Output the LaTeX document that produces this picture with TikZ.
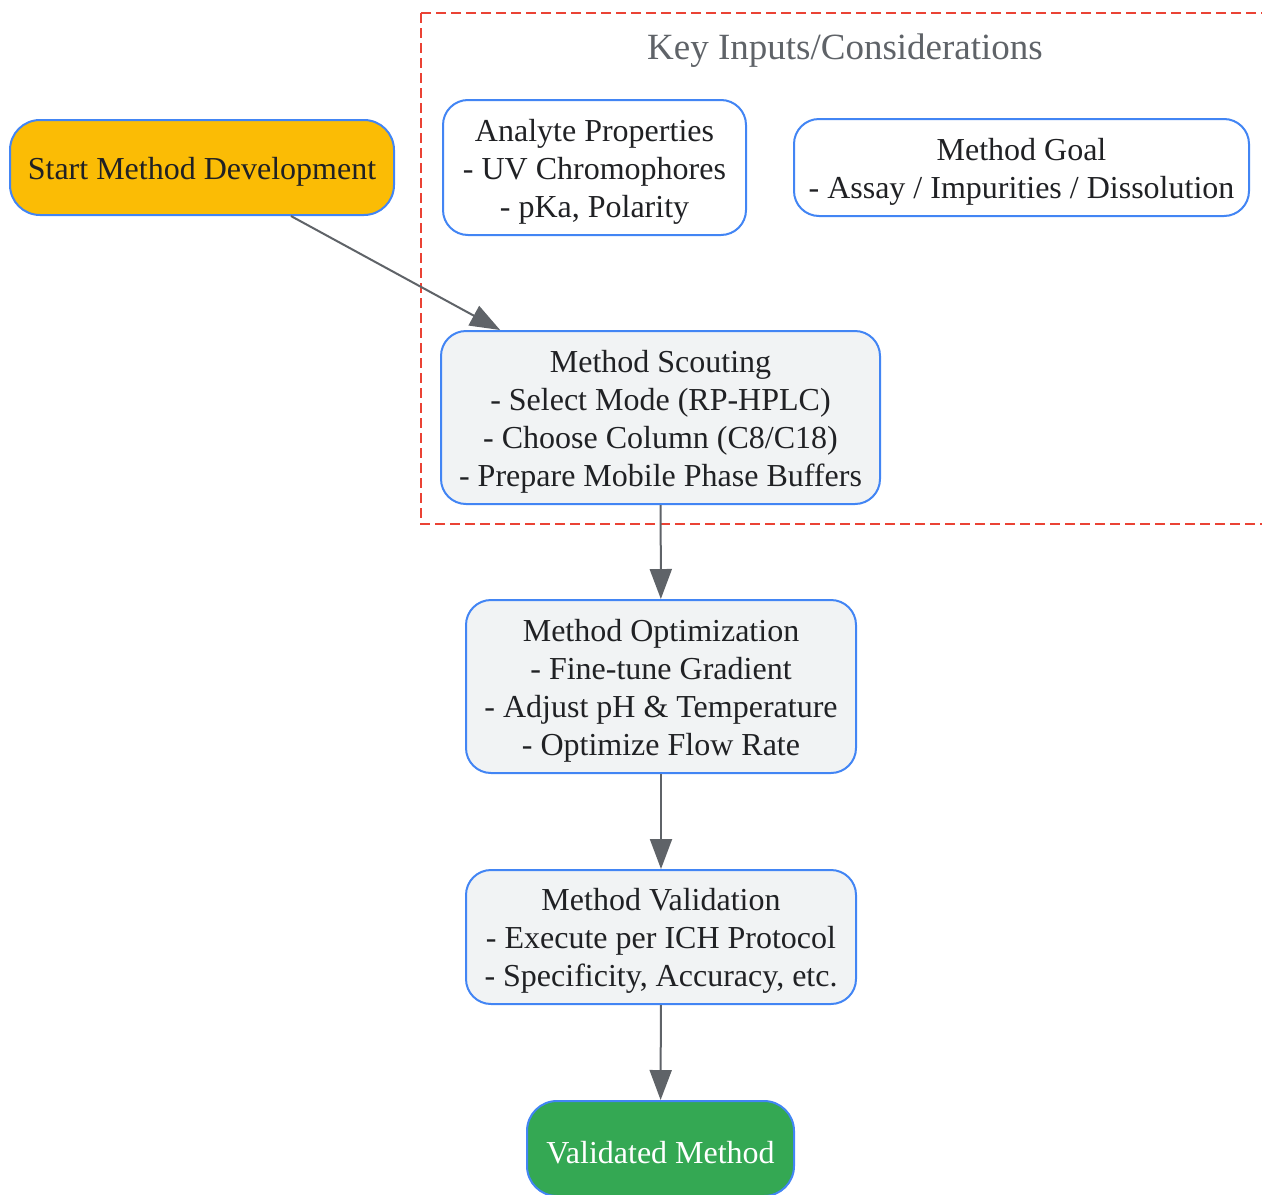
\documentclass[tikz,border=0pt]{standalone}
\usepackage{fontspec}
\setmainfont{Liberation Serif}
\usetikzlibrary{arrows.meta}
\definecolor{nodeblue}{RGB}{66,133,244}
\definecolor{startyellow}{RGB}{251,188,5}
\definecolor{endgreen}{RGB}{52,168,83}
\definecolor{stepgray}{RGB}{241,243,244}
\definecolor{ink}{RGB}{32,33,36}
\definecolor{arrowgray}{RGB}{95,99,104}
\definecolor{clusterred}{RGB}{234,67,53}
\newcommand{\boxstrut}{\rule{0pt}{15pt}}

\begin{document}
\begin{tikzpicture}[x=0.5pt, y=-0.5pt,
    box/.style={draw=nodeblue, line width=1pt, rounded corners=12.5pt, fill=stepgray, text=ink,
      align=center, inner sep=0pt, font=\fontsize{16}{19}\selectfont},
    flow/.style={draw=arrowgray, line width=1pt, -{Triangle[length=15pt, width=11pt]}}]
  \useasboundingbox (0,0) rectangle (1262,1194);
  \clip (0,0) rectangle (1262,1194);

  % cluster
  \draw[color=clusterred, line width=1pt, dash pattern=on 5pt off 2.5pt] (421,13) rectangle (1280,524);
  \node[text=arrowgray, font=\fontsize{18.5}{22}\selectfont] (keytitle) at (845,51) {Key Inputs/Considerations};
  \node[box, fill=white, minimum width=151.5pt, minimum height=67.5pt] (analyte) at (594.5,167.5)
    {\boxstrut Analyte Properties\\- UV Chromophores\\- pKa, Polarity};
  \node[box, fill=white, minimum width=227.5pt, minimum height=48.5pt] (goal) at (1021.5,167.5)
    {\boxstrut Method Goal\\- Assay / Impurities / Dissolution};

  % main flow
  \node[box, fill=startyellow, rounded corners=15pt, minimum width=192pt, minimum height=47.5pt] (start) at (202,167.5)
    {\boxstrut Start Method Development};
  \node[box, minimum width=219.5pt, minimum height=86.5pt] (scout) at (660.5,417.5)
    {\boxstrut Method Scouting\\- Select Mode (RP-HPLC)\\- Choose Column (C8/C18)\\- Prepare Mobile Phase Buffers};
  \node[box, minimum width=195pt, minimum height=86.5pt] (optim) at (661,686.5)
    {\boxstrut Method Optimization\\- Fine-tune Gradient\\- Adjust pH \& Temperature\\- Optimize Flow Rate};
  \node[box, minimum width=195pt, minimum height=67pt] (valid) at (661,937)
    {\boxstrut Method Validation\\- Execute per ICH Protocol\\- Specificity, Accuracy, etc.};
  \node[box, fill=endgreen, text=white, rounded corners=15pt, minimum width=133.5pt, minimum height=47.5pt] (done) at (660.5,1148.5)
    {\boxstrut Validated Method};

  \draw[flow] (start) -- (scout);
  \draw[flow] (scout) -- (optim);
  \draw[flow] (optim) -- (valid);
  \draw[flow] (valid) -- (done);
\end{tikzpicture}
\end{document}
